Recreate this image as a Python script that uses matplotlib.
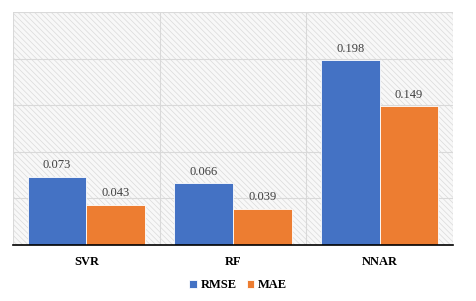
import numpy as np
import matplotlib
matplotlib.use("Agg")
import matplotlib.pyplot as plt
from matplotlib.patches import Rectangle

plt.rcParams['font.family'] = ['Liberation Serif', 'DejaVu Serif']
plt.rcParams['hatch.linewidth'] = 0.5

models = ["SVR", "RF", "NNAR"]
rmse = [0.073, 0.066, 0.198]
mae = [0.043, 0.039, 0.149]
series_names = ["RMSE", "MAE"]
colors = ["#4472C4", "#ED7D31"]

fig = plt.figure(figsize=(4.76, 3.01), dpi=100)
ax = fig.add_axes([13 / 476, 56 / 301, 440 / 476, 233 / 301])

# hatched plot area like the Excel pattern fill
ax.add_patch(Rectangle((0, 0), 1, 1, transform=ax.transAxes, facecolor="#f8f8f8",
                       hatch="\\\\\\\\\\\\", edgecolor="#dadada", linewidth=0, zorder=0))

x = np.arange(len(models))
w = 0.4
for i, (vals, name) in enumerate(zip([rmse, mae], series_names)):
    pos = x + (i - 0.5) * w
    bars = ax.bar(pos, vals, width=w, color=colors[i], edgecolor="white", linewidth=0.6,
                  label=name, zorder=3)
    for b, v in zip(bars, vals):
        ax.annotate(f"{v:.3f}", (b.get_x() + b.get_width() / 2, v), xytext=(0, 4),
                    textcoords="offset points", ha="center", va="bottom",
                    fontsize=9, color="#404040", zorder=4)

ax.set_xlim(-0.5, 2.5)
ax.set_ylim(0, 0.25)
ax.set_yticks(np.arange(0, 0.26, 0.05))
ax.set_yticklabels([])
ax.set_xticks(x)
ax.set_xticklabels(models, fontweight="bold", fontsize=9)
ax.set_xticks([-0.5, 0.5, 1.5, 2.5], minor=True)
ax.tick_params(axis="both", which="both", length=0)
ax.tick_params(axis="x", pad=8)
ax.grid(axis="y", color="#d9d9d9", linewidth=0.8, zorder=1)
ax.grid(axis="x", which="minor", color="#d9d9d9", linewidth=0.8, zorder=1)
ax.set_axisbelow(True)
for s in ["left", "right", "top"]:
    ax.spines[s].set_visible(False)
ax.spines["bottom"].set_color("black")
ax.spines["bottom"].set_linewidth(1.2)
ax.spines["bottom"].set_zorder(5)

fig.legend(loc="center", bbox_to_anchor=(0.5, 1 - 285 / 301), ncol=2, frameon=False,
           prop={"weight": "bold", "size": 9}, handlelength=0.6, handleheight=0.6,
           handletextpad=0.3, columnspacing=0.8)

fig.savefig("out.png", dpi=100, facecolor="white")
